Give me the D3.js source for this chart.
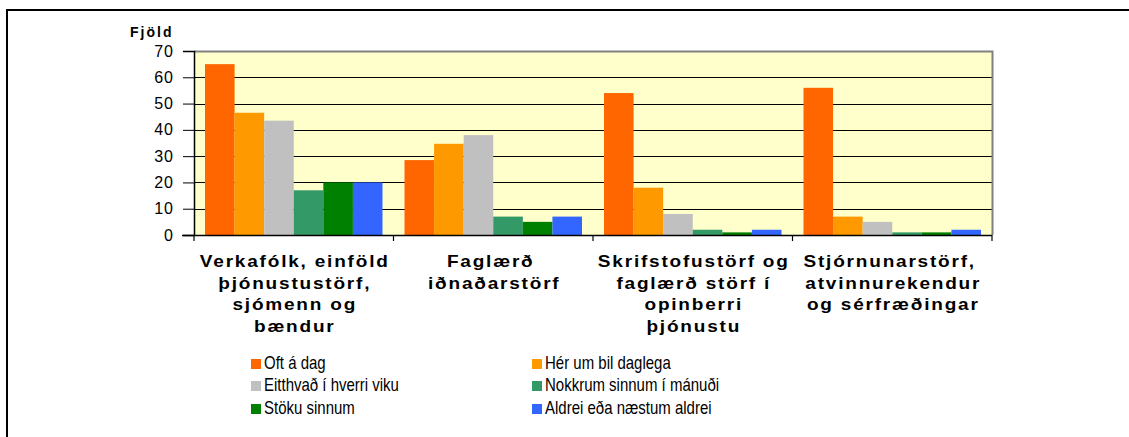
<!DOCTYPE html>
<html><head><meta charset="utf-8">
<script src="https://cdn.jsdelivr.net/npm/d3@7"></script>
<style>body{margin:0;background:#fff}svg{display:block}text{font-family:Arial,"Liberation Sans",sans-serif}</style>
</head><body>
<svg id="c" width="1129" height="437"></svg>
<script>
const categories = [
  ["Verkafólk, einföld", "þjónustustörf,", "sjómenn og", "bændur"],
  ["Faglærð ", "iðnaðarstörf"],
  ["Skrifstofustörf og", "faglærð störf í", "opinberri", "þjónustu"],
  ["Stjórnunarstörf, ", "atvinnurekendur", "og sérfræðingar"]
];
const categoryKeys = ["c1","c2","c3","c4"];
const seriesNames = ["Oft á dag","Hér um bil daglega","Eitthvað í hverri viku","Nokkrum sinnum í mánuði","Stöku sinnum","Aldrei eða næstum aldrei"];
const colors = ["#FF6600","#FF9900","#C0C0C0","#339966","#008000","#3366FF"];
const s1 = [65, 28.5, 54, 56];
const s2 = [46.5, 34.7, 18, 7];
const s3 = [43.5, 38, 8, 5];
const s4 = [17, 7, 2, 1];
const s5 = [20, 5, 1, 1];
const s6 = [20, 7, 2, 2];
const series = [s1,s2,s3,s4,s5,s6];
const yTicks = [0,10,20,30,40,50,60,70];
const yTitle = "Fjöld";

const svg = d3.select("#c");
const L=194, R=992, T=51, B=235;
const x0 = d3.scaleBand().domain(categoryKeys).range([L,R]).padding(0);
const x1 = d3.scaleBand().domain(d3.range(series.length)).range([11, x0.bandwidth()-11]).padding(0);
const y = d3.scaleLinear().domain([0,70]).range([B,T]);

// outer frame (top and left)
svg.append("line").attr("x1",6).attr("x2",1129).attr("y1",10).attr("y2",10).attr("stroke","#000").attr("stroke-width",2);
svg.append("line").attr("x1",7).attr("x2",7).attr("y1",10).attr("y2",437).attr("stroke","#000").attr("stroke-width",2);

// plot background
svg.append("rect").attr("x",L).attr("y",T).attr("width",R-L).attr("height",B-T).attr("fill","#FFFFCC");
// gridlines
svg.append("g").selectAll("line").data(yTicks.filter(d=>d>0&&d<70)).join("line")
  .attr("x1",L).attr("x2",R).attr("y1",d=>Math.round(y(d))+0.5).attr("y2",d=>Math.round(y(d))+0.5)
  .attr("stroke","#000").attr("stroke-width",1);
// plot border top/right
svg.append("path").attr("d",`M${L},${T+0.5}H${R+0.5}V${B}`).attr("fill","none").attr("stroke","#808080").attr("stroke-width",2);

// bars
const g = svg.append("g");
categoryKeys.forEach((k,ci)=>{
  series.forEach((s,si)=>{
    g.append("rect").attr("x",x0(k)+x1(si)).attr("width",x1.bandwidth())
     .attr("y",y(s[ci])).attr("height",B-y(s[ci])).attr("fill",colors[si]);
  });
});

// y axis
const ya = svg.append("g").attr("transform",`translate(${L},0)`).call(d3.axisLeft(y).tickValues(yTicks).tickSize(11).tickPadding(9));
ya.select(".domain").attr("stroke","#000").attr("stroke-width",1.5);
ya.selectAll(".tick line").attr("stroke","#000");
ya.selectAll(".tick text").attr("font-size",16).attr("fill","#000").style("letter-spacing","1px");

// x axis baseline and ticks
svg.append("line").attr("x1",L-12).attr("x2",R).attr("y1",B+0.5).attr("y2",B+0.5).attr("stroke","#000").attr("stroke-width",1.5);
const bounds = categoryKeys.map(k=>x0(k)).concat([R]);
svg.append("g").selectAll("line").data(bounds).join("line")
  .attr("x1",d=>d).attr("x2",d=>d).attr("y1",B).attr("y2",B+6).attr("stroke","#000").attr("stroke-width",1.2);

// category labels
categoryKeys.forEach((k,ci)=>{
  const cx = x0(k)+x0.bandwidth()/2;
  const t = svg.append("text").attr("transform",`translate(${cx+1},0) scale(1.12,1)`)
    .attr("text-anchor","middle").attr("font-size",17).attr("font-weight","bold")
    .attr("fill","#000").style("letter-spacing","1.6px").style("white-space","pre");
  categories[ci].forEach((line,li)=>{
    t.append("tspan").attr("x",0).attr("y",267.5+li*21.5).text(line);
  });
});

// y title
svg.append("text").attr("x",130).attr("y",36.5).attr("font-size",14).attr("font-weight","bold")
  .style("letter-spacing","2px").text(yTitle);

// legend
const legX=[251,532], legY=[363,385,408];
seriesNames.forEach((n,i)=>{
  const lx = legX[i%2], ly = legY[Math.floor(i/2)];
  svg.append("rect").attr("x",lx).attr("y",ly-4).attr("width",10).attr("height",10).attr("fill",colors[i]);
  svg.append("text").attr("transform",`translate(${lx+13},${ly+6}) scale(1,1.18)`)
    .attr("font-size",15).attr("fill","#000").text(n);
});
</script>
</body></html>
